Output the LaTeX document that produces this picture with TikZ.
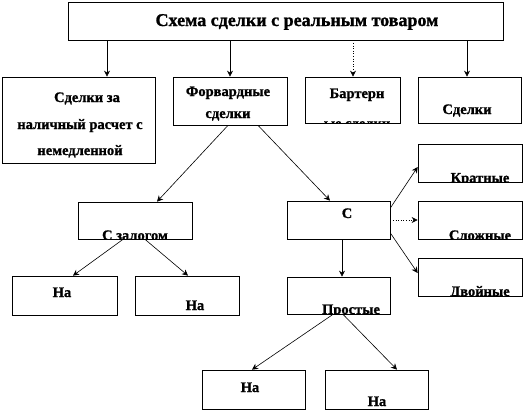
\documentclass[tikz,border=0pt]{standalone}
\usepackage{fontspec}
\setmainfont{Liberation Serif}
\newfontfamily\heavyfont{Liberation Serif Bold}[FakeBold=1.2]
\usetikzlibrary{arrows.meta}
\tikzset{
 bx/.style={draw=black, line width=0.7pt, fill=white, inner sep=0pt},
 lbl/.style={font=\heavyfont\fontsize{14.5}{16}\selectfont, inner sep=0pt, anchor=base},
 ttl/.style={font=\heavyfont\fontsize{18}{20}\selectfont, inner sep=0pt, anchor=base},
 arr/.style={-{Stealth[length=6pt,width=6pt]}, line width=0.6pt},
 dotarr/.style={arr, dotted},
}
\newcommand\mybox[5]{\node[bx, minimum width=#4pt, minimum height=#5pt] (#1) at (#2,#3) {};}
\newcommand\cliptext[5]{\begin{scope}\clip ([shift={(0.8,-0.8)}]#1.south west) rectangle ([shift={(-0.8,0.8)}]#1.north east);\node[lbl] (#2) at (#3,#4) {#5};\end{scope}}
\begin{document}
\begin{tikzpicture}[x=1pt,y=-1pt]
\useasboundingbox[fill=white] (0,0) rectangle (526,413);
% boxes
\mybox{top}{285.5}{21}{435}{38}
\mybox{b1}{78.5}{120}{153}{86}
\mybox{b2}{230}{101}{114}{48}
\mybox{b3}{352.5}{100}{95}{46}
\mybox{b4}{469.5}{100}{103}{46}
\mybox{zal}{135}{220.5}{114}{37}
\mybox{s}{338.5}{220}{103}{38}
\mybox{kr}{470}{163}{104}{38}
\mybox{sl}{470}{220}{104}{38}
\mybox{dv}{470}{277}{104}{38}
\mybox{na1}{64.5}{295.5}{105}{39}
\mybox{na2}{187}{295.5}{104}{39}
\mybox{pr}{338.5}{295.5}{103}{37}
\mybox{na3}{253.5}{389.5}{103}{39}
\mybox{na4}{376.5}{389.5}{103}{39}
% texts
\node[ttl] (tt) at (297,26) {Схема сделки с реальным товаром};
\node[lbl] (t1a) at (87,102) {Сделки за};
\node[lbl] (t1b) at (80,129) {наличный расчет с};
\node[lbl] (t1c) at (80,155) {немедленной};
\node[lbl] (t2a) at (228,96) {Форвардные};
\cliptext{b2}{t2b}{228}{118}{сделки}
\node[lbl] (t3a) at (357,98) {Бартерн};
\cliptext{b3}{t3b}{357}{128}{ые сделки}
\node[lbl] (t4) at (467,114) {Сделки};
\cliptext{zal}{t5}{135}{240}{С залогом}
\node[lbl] (t6) at (347,218) {С};
\cliptext{kr}{t7}{480}{182.5}{Кратные}
\cliptext{sl}{t8}{480}{240}{Сложные}
\cliptext{dv}{t9}{480}{296}{Двойные}
\node[lbl] (t10) at (62,297) {На};
\node[lbl] (t11) at (195,310) {На};
\cliptext{pr}{t12}{351}{314}{Простые}
\node[lbl] (t13) at (250,392) {На};
\node[lbl] (t14) at (377,406) {На};
% arrows
\draw[arr] (top.south -| 107,0) -- (b1.north -| 107,0);
\draw[arr] (top.south -| 230,0) -- (b2.north -| 230,0);
\draw[dotarr] (top.south -| 353,0) -- (b3.north -| 353,0);
\draw[arr] (top.south -| 467,0) -- (b4.north -| 467,0);
\draw[arr] (b2.south -| 228,0) -- (zal.north -| 157,0);
\draw[arr] (b2.south -| 258,0) -- (s.north -| 330,0);
\draw[arr] (zal.south -| 123,0) -- (na1.north -| 73,0);
\draw[arr] (zal.south -| 145,0) -- (na2.north -| 188,0);
\draw[arr] (s.east |- 0,208) -- (kr.west |- 0,167);
\draw[dotarr] (s.east) -- (sl.west);
\draw[arr] (s.east |- 0,233) -- (dv.west |- 0,273);
\draw[arr] (s.south -| 342,0) -- (pr.north -| 342,0);
\draw[arr] (pr.south -| 333,0) -- (na3.north -| 252,0);
\draw[arr] (pr.south -| 343,0) -- (na4.north -| 397,0);
\end{tikzpicture}
\end{document}
